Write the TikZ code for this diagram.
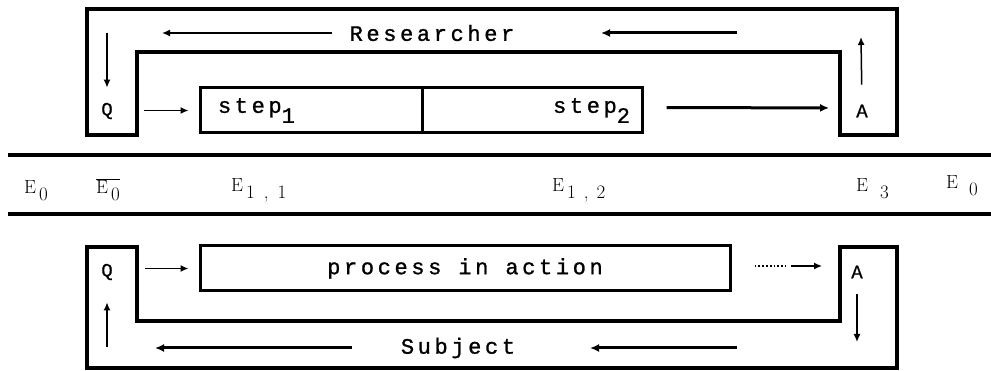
\documentclass[tikz,border=0pt]{standalone}
\usepackage{fontspec}
\usetikzlibrary{arrows.meta}
% printer-style lettering for the boxes and channel labels
\newfontfamily\dotword[LetterSpace=16.5,FakeBold=1.1]{Liberation Mono}
\newfontfamily\dotletter[FakeBold=0.7]{Liberation Mono}
\newcommand\lowsub[1]{\raisebox{-10pt}{#1}}
\newcommand\gap{\hspace*{17pt}}
\newcommand\elab[2]{E\kern#1pt\raisebox{-7pt}{#2}}

\begin{document}
\begin{tikzpicture}[x=1pt,y=-1pt,
  wall/.style={line width=4pt, line join=miter},
  band/.style={line width=4pt},
  box/.style={draw, line width=3pt, minimum height=45pt, inner sep=0pt},
  word/.style={font=\dotword\fontsize{22}{22}\selectfont, inner sep=0pt},
  letter/.style={font=\dotletter\fontsize{19}{19}\selectfont, inner sep=0pt},
  elab/.style={font=\fontsize{19}{19}\selectfont, inner sep=0pt, anchor=base west},
  thin/.style={line width=1.5pt, -{Latex[length=8pt,width=7pt]}},
  thick/.style={line width=3pt, -{Latex[length=9pt,width=8pt]}},
]
\useasboundingbox (0,0) rectangle (991,371);

% ---------- researcher channel (upper) ----------
\draw[wall] (87,135) -- (87,9) -- (897,9) -- (897,135) -- (840,135)
  -- (840,52) -- (137,52) -- (137,135) -- cycle;

\node[letter] (q1) at (107,111) {Q};
\node[letter] (a1) at (862,111) {A};
\node[box, minimum width=222pt, text width=186pt, align=left, font=\dotword\fontsize{22}{22}\selectfont]
  (s1) at (311,110.5) {step\lowsub{1}};
\node[box, minimum width=220pt, text width=196pt, align=right, font=\dotword\fontsize{22}{22}\selectfont]
  (s2) at (532,110.5) {step\lowsub{2}};
\node[word] (res) at (432,33) {Researcher};

\coordinate (rl) at (162,33);
\coordinate (rr1) at (737,33);
\coordinate (rr2) at (601,33);
\coordinate (qin) at (107,33);
\coordinate (aout) at (861,37);

\draw[thin, shorten <=31pt, shorten >=10pt] (q1.east |- s1.west) -- (s1.west);
\draw[thick, shorten <=23pt, shorten >=27pt] ([yshift=3pt]s2.east) -- ([yshift=3pt]a1.west);
\draw[thin, shorten >=15pt] (qin) -- (q1.north);
\draw[thin, shorten <=20pt] (a1.north) -- (aout);
\draw[thin, shorten <=17pt] (res.west) -- (rl);
\draw[thick] (rr1) -- (rr2);

% ---------- time band ----------
\draw[band] (8,155) -- (991,155);
\draw[band] (8,214) -- (991,214);

\node[elab] (e0l) at (24,194) {\elab{3}{0}};
\node[elab] (e0b) at (96,194) {$\overline{\hbox{\elab{3}{0}}}$};
\node[elab] (e11) at (231,192) {\elab{3}{1\kern9pt,\kern9pt1}};
\node[elab] (e12) at (552,192) {\elab{3}{1\kern8pt,\kern8pt2}};
\node[elab] (e3)  at (856,192) {\elab{12}{3}};
\node[elab] (e0r) at (946,189) {\elab{11}{0}};

% ---------- subject channel (lower) ----------
\draw[wall] (87,247) -- (137,247) -- (137,321) -- (840,321) -- (840,247)
  -- (897,247) -- (897,368) -- (87,368) -- cycle;

\node[letter] (q2) at (107,272) {Q};
\node[letter] (a2) at (857,272) {A};
\node[box, minimum width=530pt, text width=518pt, align=center, font=\dotword\fontsize{22}{22}\selectfont]
  (proc) at (465,268.5) {process\gap in\gap action\hspace*{12pt}};
\node[word] (subj) at (458,348) {Subject};

\coordinate (dA) at (786,266);
\coordinate (dB) at (791,266);
\coordinate (ain) at (857,342);
\coordinate (qout) at (107,347);
\coordinate (sl1) at (352,348);
\coordinate (sl2) at (155,348);
\coordinate (sr1) at (737,348);
\coordinate (sr2) at (590,348);

\draw[thin, shorten <=32pt, shorten >=10pt] (q2.east |- proc.west) -- (proc.west);
\draw[line width=1.8pt, dotted, shorten <=23pt] (proc.east |- dA) -- (dA);
\draw[thin, shorten >=29pt] (dB) -- (a2.west |- dB);
\draw[thin, shorten <=16pt] (a2.south) -- (ain);
\draw[thin, shorten >=22pt] (qout) -- (q2.south);
\draw[thick] (sl1) -- (sl2);
\draw[thick] (sr1) -- (sr2);
\end{tikzpicture}
\end{document}
